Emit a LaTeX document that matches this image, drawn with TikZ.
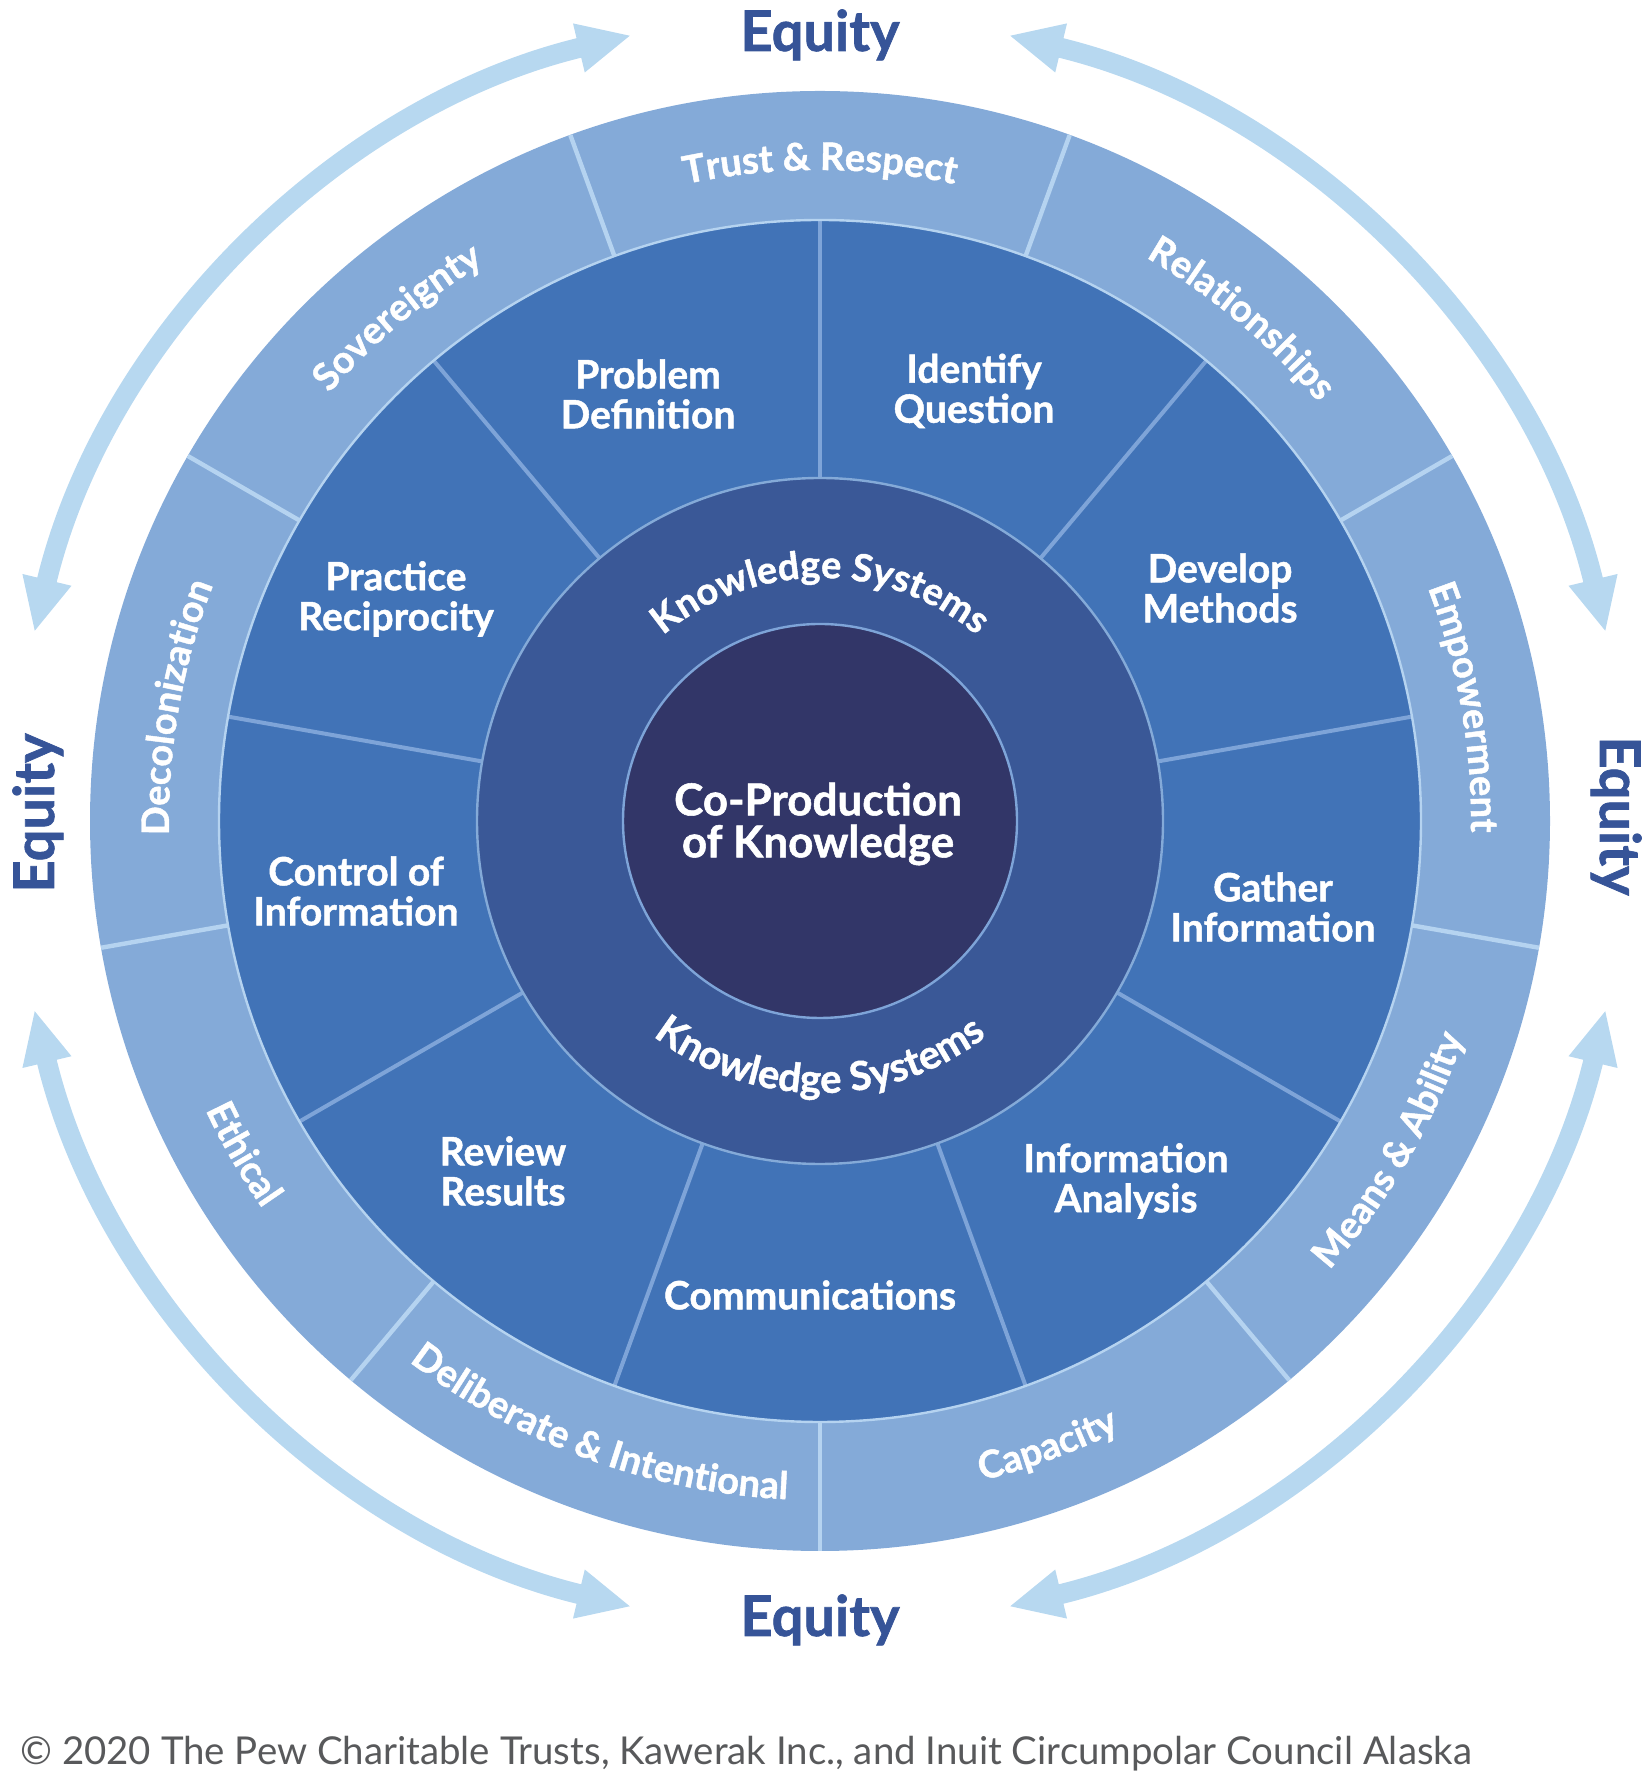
\documentclass[tikz,border=0pt]{standalone}
\usepackage{fontspec}
\setmainfont{Lato}
\newfontfamily\heavyfont{Lato}[BoldFeatures={FakeBold=1.2}]
\usepackage{tikz}
\usetikzlibrary{arrows.meta,decorations.text}
\definecolor{ringout}{HTML}{84AAD8}
\definecolor{ringstep}{HTML}{4173B7}
\definecolor{ringks}{HTML}{3A5897}
\definecolor{core}{HTML}{323668}
\definecolor{arrowblue}{HTML}{B7D8F0}
\definecolor{equityblue}{HTML}{365498}
\definecolor{stepline}{HTML}{7EA4D8}
\definecolor{outline}{HTML}{B5D3F0}
\definecolor{copygray}{HTML}{58595B}
\newcommand{\ringfont}{\heavyfont\bfseries\fontsize{19}{22}\selectfont}
\newcommand{\ksfont}{\heavyfont\bfseries\fontsize{20}{22}\selectfont}

\begin{document}
\begin{tikzpicture}
[x=0.5pt,y=0.5pt,
stage/.style={text=white,font=\heavyfont\bfseries\fontsize{19.5}{20}\selectfont,align=center,inner sep=0pt},
equity/.style={text=equityblue,font=\heavyfont\bfseries\fontsize{28}{30}\selectfont,inner sep=0pt,anchor=base},
divstep/.style={draw=stepline,line width=2pt},
divout/.style={draw=outline,line width=2.2pt},
rim/.style={line width=1.2pt},
equityarrow/.style={draw=arrowblue,line width=10pt,{Triangle[length=27pt,width=23pt]}-{Triangle[length=27pt,width=23pt]}},
ringtext/.style={decorate,decoration={text along path,text align=center,text color=white,text={#1}}}]
\useasboundingbox (0,0) rectangle (1650,1773);

\begin{scope}[shift={(820,952)}]
\fill[ringout] (0,0) circle[radius=730];
\fill[ringstep] (0,0) circle[radius=601];
\fill[ringks] (0,0) circle[radius=343];
\fill[core] (0,0) circle[radius=197];

\draw[divstep] (90:343) -- (90:601);
\draw[divstep] (50:343) -- (50:601);
\draw[divstep] (10:343) -- (10:601);
\draw[divstep] (-30:343) -- (-30:601);
\draw[divstep] (-70:343) -- (-70:601);
\draw[divstep] (-110:343) -- (-110:601);
\draw[divstep] (-150:343) -- (-150:601);
\draw[divstep] (170:343) -- (170:601);
\draw[divstep] (130:343) -- (130:601);

\draw[divout] (110:601) -- (110:730);
\draw[divout] (70:601) -- (70:730);
\draw[divout] (30:601) -- (30:730);
\draw[divout] (-10:601) -- (-10:730);
\draw[divout] (-50:601) -- (-50:730);
\draw[divout] (-90:601) -- (-90:730);
\draw[divout] (-130:601) -- (-130:730);
\draw[divout] (-170:601) -- (-170:730);
\draw[divout] (150:601) -- (150:730);

\draw[rim,draw=outline] (0,0) circle[radius=601];
\draw[rim,draw=ringout] (0,0) circle[radius=343];
\draw[rim,draw=stepline] (0,0) circle[radius=197];

\path[ringtext={|\ringfont|Trust {\&} Respect}] (130:651) arc[start angle=130,end angle=50,radius=651];
\path[ringtext={|\ringfont|Relationships}] (90:651) arc[start angle=90,end angle=10,radius=651];
\path[ringtext={|\ringfont|Empowerment}] (50:651) arc[start angle=50,end angle=-30,radius=651];
\path[ringtext={|\ringfont|Means {\&} Ability}] (-70:679) arc[start angle=-70,end angle=10,radius=679];
\path[ringtext={|\ringfont|Capacity}] (-110:679) arc[start angle=-110,end angle=-30,radius=679];
\path[ringtext={|\ringfont|Deliberate {\&} Intentional}] (-150:679) arc[start angle=-150,end angle=-70,radius=679];
\path[ringtext={|\ringfont|Ethical}] (-190:679) arc[start angle=-190,end angle=-110,radius=679];
\path[ringtext={|\ringfont|Decolonization}] (210:651) arc[start angle=210,end angle=130,radius=651];
\path[ringtext={|\ringfont|Sovereignty}] (170:651) arc[start angle=170,end angle=90,radius=651];
\path[ringtext={|\ringfont|Knowledge Systems}] (150:243) arc[start angle=150,end angle=30,radius=243];
\path[ringtext={|\ksfont|Knowledge Systems}] (-150:272) arc[start angle=-150,end angle=-30,radius=272];

\node[stage] (probdef) at (-172,427) {Problem\\Definition};
\node[stage] (identq) at (154,430) {Identify\\Question};
\node[stage] (devmeth) at (400,233) {Develop\\Methods};
\node[stage] (gather) at (453,-86) {Gather\\Information};
\node[stage] (analysis) at (306,-360) {Information\\Analysis};
\node[stage] (comms) at (-10,-474) {Communications};
\node[stage] (review) at (-317,-350) {Review\\Results};
\node[stage] (control) at (-464,-70) {Control of\\Information};
\node[stage] (practice) at (-424,222) {Practice\\Reciprocity};
\node[stage,font=\heavyfont\bfseries\fontsize{22}{21}\selectfont] (coprod) at (-2,-3) {Co-Production\\of Knowledge};

\node[equity] (eqtop) at (0,770) {Equity};
\node[equity] (eqbottom) at (0,-815) {Equity};
\node[equity,rotate=90] (eqleft) at (-766,8) {Equity};
\node[equity,rotate=-90] (eqright) at (780,5) {Equity};

\coordinate (arrtl) at (103.5:808);
\coordinate (arrtr) at (76.5:808);
\coordinate (arrbl) at (-103.5:808);
\coordinate (arrbr) at (-76.5:808);
\draw[equityarrow] (arrtl) arc[start angle=103.5,end angle=166.5,radius=808];
\draw[equityarrow] (arrtr) arc[start angle=76.5,end angle=13.5,radius=808];
\draw[equityarrow] (arrbl) arc[start angle=-103.5,end angle=-166.5,radius=808];
\draw[equityarrow] (arrbr) arc[start angle=-76.5,end angle=-13.5,radius=808];
\end{scope}

\node[text=copygray,font=\fontsize{19.2}{22}\selectfont,inner sep=0pt,anchor=base west] (copyright) at (20,9) {© 2020 The Pew Charitable Trusts, Kawerak Inc., and Inuit Circumpolar Council Alaska};
\end{tikzpicture}
\end{document}
